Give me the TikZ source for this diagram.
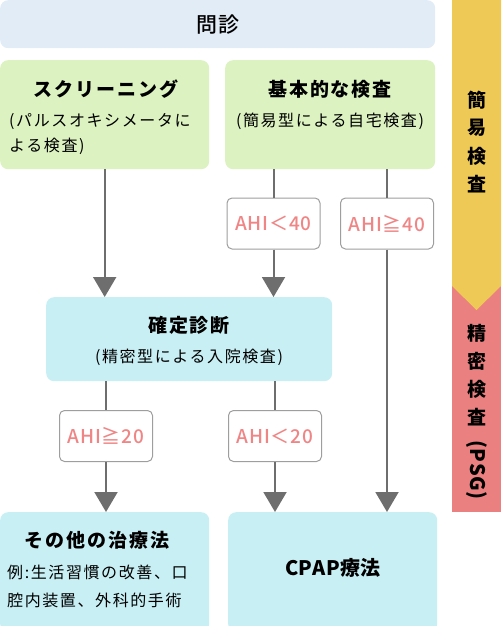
\documentclass[tikz,border=0pt]{standalone}
\usepackage{fontspec}
\setmainfont{Noto Sans CJK JP}[LetterSpace=10]
\newfontfamily\plainjp{Noto Sans CJK JP}[LetterSpace=3]
\newfontfamily\medjp{Noto Sans CJK JP Medium}[LetterSpace=4]
\usepackage{tikz}
\usetikzlibrary{arrows.meta,calc}
\definecolor{monshin}{HTML}{E2ECF6}
\definecolor{easygreen}{HTML}{DCF2C1}
\definecolor{precyan}{HTML}{C8EFF4}
\definecolor{easybar}{HTML}{EEC955}
\definecolor{precbar}{HTML}{EA8080}
\definecolor{flowgray}{HTML}{6E6E6E}
\definecolor{condgray}{HTML}{9E9E9E}
\definecolor{condpink}{HTML}{F08585}

\begin{document}
\begin{tikzpicture}[x=1pt, y=-1pt,
		box/.style={rounded corners=8pt, inner sep=0pt, anchor=north west},
		cond/.style={draw=condgray, fill=white, line width=1pt, rounded corners=5pt, minimum width=93pt, minimum height=51pt, inner sep=0pt, text=condpink, font=\medjp\fontsize{19}{20}\selectfont},
		link/.style={draw=flowgray, line width=2pt},
		flow/.style={link, -{Triangle[width=23pt,length=20pt]}},
		title/.style={font=\fontsize{19}{22}\selectfont\bfseries},
		sub/.style={font=\fontsize{16}{25}\selectfont, align=left, inner sep=0pt},
		side/.style={font=\fontsize{19}{20}\selectfont\bfseries, inner sep=0pt} ]
		
		\useasboundingbox (0,0) rectangle (501,626);
		
		% side bar
		\fill[precbar] (452,286) rectangle (501,512);
		\fill[easybar] (452,0) -- (501,0) -- (501,286) -- (476.5,310) -- (452,286) -- cycle;
		\foreach \c [count=\i] in {簡,易,検,査}
			\node[side] (easy\i) at (476.5,72+28*\i) {\c};
		\foreach \c [count=\i] in {精,密,検,査}
			\node[side] (prec\i) at (476.5,305+28*\i) {\c};
		\node[side, font=\plainjp\fontsize{20}{20}\selectfont\bfseries, rotate=-90] (psg) at (476.5,470) {(PSG)};
		
		% boxes
		\node[box, fill=monshin, minimum width=435pt, minimum height=48pt, font=\medjp\fontsize{21}{22}\selectfont] (mon) at (0,0) {問診};
		\node[box, fill=easygreen, minimum width=209pt, minimum height=109pt] (scr) at (0,60) {};
		\node[box, fill=easygreen, minimum width=210pt, minimum height=109pt] (kihon) at (225,60) {};
		\node[box, fill=precyan, minimum width=286pt, minimum height=84pt] (kakutei) at (46,297) {};
		\node[box, fill=precyan, minimum width=209pt, minimum height=120pt] (other) at (0,512) {};
		\node[box, fill=precyan, minimum width=209pt, minimum height=120pt] (cpap) at (228,512) {};
		
		% texts
		\node[title] (scrT) at (106,89) {スクリーニング};
		\node[sub, anchor=west] (scrS) at (9,134) {(パルスオキシメータに\\よる検査)};
		\node[title] (kihonT) at (330,89) {基本的な検査};
		\node[sub] (kihonS) at (330,121) {(簡易型による自宅検査)};
		\node[title] (kakuteiT) at (189,325) {確定診断};
		\node[sub] (kakuteiS) at (189,357) {(精密型による入院検査)};
		\node[title] (otherT) at (97,540) {その他の治療法};
		\node[sub, anchor=west, font=\fontsize{16}{28}\selectfont] (otherS) at (7,586) {例:生活習慣の改善、口\\腔内装置、外科的手術};
		\node[title, font=\plainjp\fontsize{20}{22}\selectfont\bfseries] (cpapT) at (333,568) {CPAP療法};
		
		% conditions
		\node[cond] (lt40) at (273.5,223.5) {AHI＜40};
		\node[cond] (ge40) at (387,223.5) {AHI≧40};
		\node[cond] (ge20) at (106,436) {AHI≧20};
		\node[cond] (lt20) at (275,436) {AHI＜20};
		
		% connectors
		\draw[flow] (scr) -- (scr |- kakutei.north);
		\draw[link] (kihon.south -| lt40) -- (lt40);
		\draw[flow] (lt40) -- (lt40 |- kakutei.north);
		\draw[link] (kihon.south -| ge40) -- (ge40);
		\draw[flow] (ge40) -- (ge40 |- cpap.north);
		\draw[link] (kakutei.south -| ge20) -- (ge20);
		\draw[flow] (ge20) -- (ge20 |- other.north);
		\draw[link] (kakutei.south -| lt20) -- (lt20);
		\draw[flow] (lt20) -- (lt20 |- cpap.north);
	\end{tikzpicture}
\end{document}
